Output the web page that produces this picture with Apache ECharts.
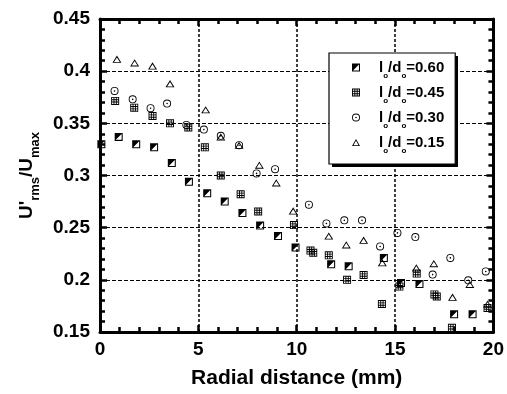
<!DOCTYPE html>
<html><head><meta charset="utf-8">
<script src="https://cdn.jsdelivr.net/npm/echarts@6/dist/echarts.min.js"></script>
<style>html,body{margin:0;padding:0;background:#fff}#c{width:507px;height:394px}</style>
</head><body><div id="c"></div>
<script>
// ---- data ----
const seriesLabels = ['0.60', '0.45', '0.30', '0.15'];
const xRange = [0, 20];
const yRange = [0.15, 0.45];
const xStep = 5;
const yStep = 0.05;

const ld060 = [[0.07,0.330],[0.95,0.337],[1.84,0.330],[2.75,0.327],[3.65,0.312],[4.52,0.294],[5.45,0.283],[6.34,0.275],[7.24,0.264],[8.14,0.252],[9.05,0.242],[9.94,0.231],[11.75,0.215],[12.64,0.213],[14.43,0.221],[15.30,0.197],[16.24,0.196],[18.00,0.167],[18.94,0.167]];
const ld045 = [[0.77,0.3715],[1.74,0.365],[2.67,0.357],[3.56,0.350],[4.49,0.346],[5.33,0.327],[6.14,0.300],[7.15,0.282],[8.04,0.2655],[9.86,0.2525],[10.70,0.228],[10.84,0.226],[11.63,0.2235],[12.56,0.200],[13.40,0.2046],[14.33,0.1768],[15.22,0.1935],[16.10,0.206],[17.00,0.186],[17.12,0.184],[17.89,0.154],[19.70,0.173]];
const ld030 = [[0.74,0.381],[1.66,0.373],[2.57,0.3645],[3.41,0.369],[4.39,0.3485],[5.28,0.344],[6.14,0.338],[7.07,0.329],[7.96,0.302],[8.90,0.306],[10.62,0.272],[11.51,0.254],[12.42,0.257],[13.32,0.257],[14.24,0.232],[15.12,0.245],[16.03,0.241],[16.91,0.205],[17.81,0.221],[18.72,0.1995],[19.61,0.208]];
const ld015 = [[0.86,0.4115],[1.76,0.408],[2.67,0.405],[3.56,0.388],[5.37,0.363],[6.14,0.337],[7.07,0.329],[8.10,0.310],[8.96,0.293],[9.82,0.266],[11.63,0.242],[12.52,0.2336],[13.40,0.238],[14.35,0.2165],[16.08,0.2115],[16.97,0.2156],[17.92,0.1834],[18.80,0.1957],[19.70,0.1768]];

// ---- symbols ----
const halfSq = 'path://M0,0L10,0L10,10L0,10Z M1.3,1.3L1.3,8.7L8.7,8.7L8.7,1.3Z M1.3,1.3L8.7,1.3L1.3,8.7Z';
function gridPath() {
  const cells = [[1.15,2.95],[4.1,5.9],[7.05,8.85]];
  let p = 'path://M0,0L10,0L10,10L0,10Z';
  cells.forEach(function (cx) { cells.forEach(function (cy) {
    p += ' M' + cx[0] + ',' + cy[0] + 'L' + cx[0] + ',' + cy[1] + 'L' + cx[1] + ',' + cy[1] + 'L' + cx[1] + ',' + cy[0] + 'Z';
  }); });
  return p;
}
const gridSq = gridPath();
const circDot = 'path://M0,5A5,5 0 1,1 10,5A5,5 0 1,1 0,5Z M1.1,5A3.9,3.9 0 1,0 8.9,5A3.9,3.9 0 1,0 1.1,5Z M4,5A1,1 0 1,1 6,5A1,1 0 1,1 4,5Z';
const triOpen = 'path://M5,0L10,9L0,9Z M5,2.3L1.8,8L8.2,8Z';

const FF = '"Liberation Sans", Arial, Helvetica, sans-serif';
const chart = echarts.init(document.getElementById('c'), null, {renderer: 'canvas'});

const symbols = [halfSq, gridSq, circDot, triOpen];
const sizes = [[8,8],[8,8],[8,8],[9,8]];
const datasets = [ld060, ld045, ld030, ld015];

const axisCommon = {
  axisLine: {show: true, onZero: false, lineStyle: {color: '#000', width: 3}},
  axisTick: {show: true, inside: true, length: 7, lineStyle: {color: '#000', width: 2.5}},
  minorTick: {show: true, splitNumber: 5, length: 5, lineStyle: {color: '#000', width: 2.5}}
};

// legend box geometry (style only)
const LEG = {left: 329, top: 53, w: 126, h: 111};
const LH = 25;

chart.setOption({
  animation: false,
  backgroundColor: '#fff',
  grid: {left: 100, right: 12, top: 19, bottom: 58},
  graphic: [{
    type: 'rect', z: 9,
    shape: {x: LEG.left + 3, y: LEG.top + 3, width: LEG.w, height: LEG.h},
    style: {fill: '#000'}
  }],
  xAxis: [
    Object.assign({
      type: 'value', min: xRange[0], max: xRange[1], interval: xStep, position: 'bottom',
      name: 'Radial distance (mm)', nameLocation: 'middle', nameGap: 36,
      nameTextStyle: {fontFamily: FF, fontWeight: 'bold', fontSize: 21, color: '#000'},
      axisLabel: {margin: 8, fontFamily: FF, fontWeight: 'bold', fontSize: 19, color: '#000'},
      splitLine: {show: true, lineStyle: {color: '#000', width: 1.5, type: [3, 2]}}
    }, axisCommon),
    Object.assign({
      type: 'value', min: xRange[0], max: xRange[1], interval: xStep, position: 'top',
      axisLabel: {show: false}, splitLine: {show: false}
    }, axisCommon)
  ],
  yAxis: [
    Object.assign({
      type: 'value', min: yRange[0], max: yRange[1], interval: yStep, position: 'left',
      name: "{m|U'}{s|rms}{m|/U}{s|max}", nameLocation: 'middle', nameRotate: 90, nameGap: 73,
      nameTextStyle: {
        verticalAlign: 'middle', align: 'center', lineHeight: 22, color: '#000',
        fontFamily: FF, fontWeight: 'bold', fontSize: 19,
        rich: {
          m: {fontFamily: FF, fontWeight: 'bold', fontSize: 19, color: '#000'},
          s: {fontFamily: FF, fontWeight: 'bold', fontSize: 13, color: '#000', padding: [17, 0, 0, 0]}
        }
      },
      axisLabel: {margin: 10, fontFamily: FF, fontWeight: 'bold', fontSize: 19, color: '#000'},
      splitLine: {show: true, lineStyle: {color: '#000', width: 1.2, type: [4, 2]}}
    }, axisCommon),
    Object.assign({
      type: 'value', min: yRange[0], max: yRange[1], interval: yStep, position: 'right',
      axisLabel: {show: false}, splitLine: {show: false}
    }, axisCommon)
  ],
  legend: {
    orient: 'vertical', left: LEG.left, top: LEG.top, itemWidth: 8, itemHeight: 8, itemGap: 0,
    padding: [2, 11, 9, 23], selectedMode: false, z: 10,
    backgroundColor: '#fff', borderColor: '#000', borderWidth: 1.2,
    textStyle: {
      fontFamily: FF, fontWeight: 'bold', fontSize: 15, lineHeight: LH, color: '#000',
      rich: {
        p: {fontFamily: FF, fontWeight: 'bold', fontSize: 15, lineHeight: LH, color: '#000', padding: [0, 0, 0, 14]},
        m: {fontFamily: FF, fontWeight: 'bold', fontSize: 15, lineHeight: LH, color: '#000'},
        s: {fontFamily: FF, fontWeight: 'bold', fontSize: 8, lineHeight: LH, color: '#000', verticalAlign: 'bottom'}
      }
    },
    formatter: function (n) { return '{p|l}{s|o}{m|/d}{s|o}{m|=' + n + '}'; },
    data: seriesLabels.map(function (n, i) { return {name: n, icon: symbols[i]}; })
  },
  series: seriesLabels.map(function (n, i) {
    return {
      name: n, type: 'scatter', data: datasets[i], xAxisIndex: 0, yAxisIndex: 0,
      symbol: symbols[i], symbolSize: sizes[i], symbolKeepAspect: true,
      itemStyle: {color: '#000', opacity: 1}, z: 3
    };
  })
});
</script>
</body></html>
